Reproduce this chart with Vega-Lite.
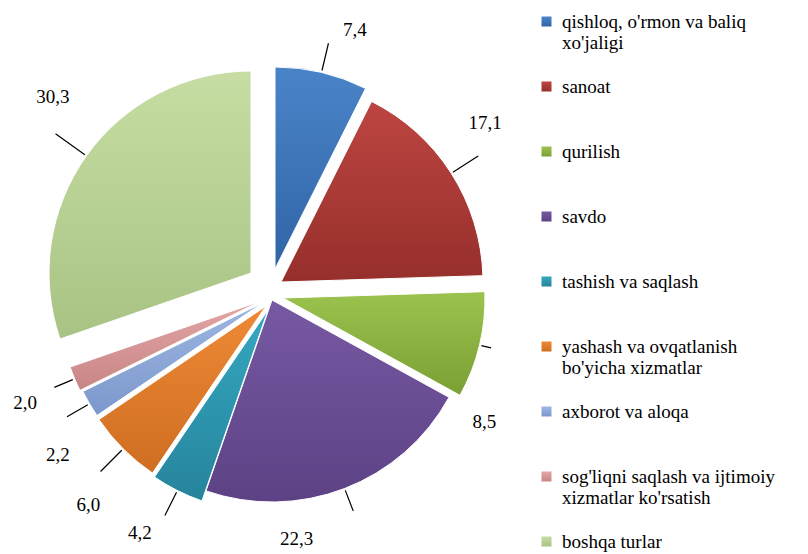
{
  "$schema": "https://vega.github.io/schema/vega-lite/v6.json",
  "width": 536,
  "height": 554,
  "autosize": {"type": "none"},
  "padding": {"left": 0, "top": 0, "right": 272, "bottom": 0},
  "background": "white",
  "config": {
    "font": "Liberation Serif, DejaVu Serif, serif",
    "view": {"stroke": null},
    "legend": {"labelFont": "Liberation Serif, DejaVu Serif, serif"},
    "locale": {"number": {"decimal": ",", "thousands": " ", "grouping": [3], "currency": ["", ""]}}
  },
  "data": {
    "values": [
      {"cat": "qishloq, o'rmon va baliq xo'jaligi", "v": 7.4, "ord": 1},
      {"cat": "sanoat", "v": 17.1, "ord": 2},
      {"cat": "qurilish", "v": 8.5, "ord": 3},
      {"cat": "savdo", "v": 22.3, "ord": 4},
      {"cat": "tashish va saqlash", "v": 4.2, "ord": 5},
      {"cat": "yashash va ovqatlanish bo'yicha xizmatlar", "v": 6.0, "ord": 6},
      {"cat": "axborot va aloqa", "v": 2.2, "ord": 7},
      {"cat": "sog'liqni saqlash va ijtimoiy xizmatlar ko'rsatish", "v": 2.0, "ord": 8},
      {"cat": "boshqa turlar", "v": 30.3, "ord": 9}
    ]
  },
  "transform": [
    {"stack": "v", "groupby": [], "sort": [{"field": "ord"}], "as": ["v0", "v1"]}
  ],
  "encoding": {
    "color": {
      "field": "cat",
      "type": "nominal",
      "scale": {
        "domain": ["qishloq, o'rmon va baliq xo'jaligi", "sanoat", "qurilish", "savdo", "tashish va saqlash", "yashash va ovqatlanish bo'yicha xizmatlar", "axborot va aloqa", "sog'liqni saqlash va ijtimoiy xizmatlar ko'rsatish", "boshqa turlar"],
        "range": [
          {"expr": "{gradient: 'linear', x1: 0, y1: 0, x2: 0, y2: 1, stops: [{offset: 0, color: '#4A84C8'}, {offset: 1, color: '#3065A7'}]}"},
          {"expr": "{gradient: 'linear', x1: 0, y1: 0, x2: 0, y2: 1, stops: [{offset: 0, color: '#BD4541'}, {offset: 1, color: '#962F2C'}]}"},
          {"expr": "{gradient: 'linear', x1: 0, y1: 0, x2: 0, y2: 1, stops: [{offset: 0, color: '#9CC24E'}, {offset: 1, color: '#7A9F34'}]}"},
          {"expr": "{gradient: 'linear', x1: 0, y1: 0, x2: 0, y2: 1, stops: [{offset: 0, color: '#7759A3'}, {offset: 1, color: '#5C4285'}]}"},
          {"expr": "{gradient: 'linear', x1: 0, y1: 0, x2: 0, y2: 1, stops: [{offset: 0, color: '#35A7C1'}, {offset: 1, color: '#26849C'}]}"},
          {"expr": "{gradient: 'linear', x1: 0, y1: 0, x2: 0, y2: 1, stops: [{offset: 0, color: '#EE8A36'}, {offset: 1, color: '#CF6D21'}]}"},
          {"expr": "{gradient: 'linear', x1: 0, y1: 0, x2: 0, y2: 1, stops: [{offset: 0, color: '#9CB7E3'}, {offset: 1, color: '#7C98CB'}]}"},
          {"expr": "{gradient: 'linear', x1: 0, y1: 0, x2: 0, y2: 1, stops: [{offset: 0, color: '#E4A6A6'}, {offset: 1, color: '#C88586'}]}"},
          {"expr": "{gradient: 'linear', x1: 0, y1: 0, x2: 0, y2: 1, stops: [{offset: 0, color: '#C7DDA3'}, {offset: 1, color: '#A8C384'}]}"}
        ]
      },
      "legend": {
        "title": null,
        "orient": "none",
        "legendX": 537,
        "legendY": 12,
        "symbolType": "square",
        "symbolSize": 100,
        "symbolStrokeWidth": 0,
        "labelFont": "Liberation Serif, DejaVu Serif, serif",
        "labelFontSize": 19,
        "labelColor": "#000000",
        "labelLimit": 300,
        "labelOffset": 6,
        "rowPadding": 24,
        "labelExpr": "datum.label == \"qishloq, o'rmon va baliq xo'jaligi\" ? [\"qishloq, o'rmon va baliq\", \"xo'jaligi\"] : datum.label == \"yashash va ovqatlanish bo'yicha xizmatlar\" ? [\"yashash va ovqatlanish\", \"bo'yicha xizmatlar\"] : datum.label == \"sog'liqni saqlash va ijtimoiy xizmatlar ko'rsatish\" ? [\"sog'liqni  saqlash va ijtimoiy\", \"xizmatlar ko'rsatish\"] : datum.label == 'boshqa turlar' ? datum.label : [datum.label, ' ']"
      }
    }
  },
  "layer": [
    {"transform": [{"filter": "datum.ord == 1"}],
     "encoding": {"theta": {"field": "v0", "type": "quantitative", "stack": null, "scale": {"domain": [0, 100]}}, "theta2": {"field": "v1"}},
     "layer": [
       {"mark": {"type": "arc", "outerRadius": 202, "xOffset": 7, "yOffset": -8, "stroke": "#ffffff", "strokeWidth": 1}},
       {"mark": {"type": "arc", "filled": false, "padAngle": 3.1416, "innerRadius": 204, "outerRadius": 232, "xOffset": 7, "yOffset": -8, "strokeWidth": 1.2}, "encoding": {"color": {"value": "#000000"}}}
     ]},
    {"transform": [{"filter": "datum.ord == 2"}],
     "encoding": {"theta": {"field": "v0", "type": "quantitative", "stack": null, "scale": {"domain": [0, 100]}}, "theta2": {"field": "v1"}},
     "layer": [
       {"mark": {"type": "arc", "outerRadius": 202, "xOffset": 13, "yOffset": 5, "stroke": "#ffffff", "strokeWidth": 1}},
       {"mark": {"type": "arc", "filled": false, "padAngle": 3.1416, "innerRadius": 204, "outerRadius": 234, "xOffset": 13, "yOffset": 5, "strokeWidth": 1.2}, "encoding": {"color": {"value": "#000000"}}}
     ]},
    {"transform": [{"filter": "datum.ord == 3"}],
     "encoding": {"theta": {"field": "v0", "type": "quantitative", "stack": null, "scale": {"domain": [0, 100]}}, "theta2": {"field": "v1"}},
     "layer": [
       {"mark": {"type": "arc", "outerRadius": 202, "xOffset": 15, "yOffset": 21, "stroke": "#ffffff", "strokeWidth": 1}},
       {"mark": {"type": "arc", "filled": false, "padAngle": 3.1416, "innerRadius": 204, "outerRadius": 214, "xOffset": 15, "yOffset": 21, "strokeWidth": 1.2}, "encoding": {"color": {"value": "#000000"}}}
     ]},
    {"transform": [{"filter": "datum.ord == 4"}],
     "encoding": {"theta": {"field": "v0", "type": "quantitative", "stack": null, "scale": {"domain": [0, 100]}}, "theta2": {"field": "v1"}},
     "layer": [
       {"mark": {"type": "arc", "outerRadius": 202, "xOffset": 4, "yOffset": 23, "stroke": "#ffffff", "strokeWidth": 1}},
       {"mark": {"type": "arc", "filled": false, "padAngle": 3.1416, "innerRadius": 204, "outerRadius": 226, "xOffset": 4, "yOffset": 23, "strokeWidth": 1.2}, "encoding": {"color": {"value": "#000000"}}}
     ]},
    {"transform": [{"filter": "datum.ord == 5"}],
     "encoding": {"theta": {"field": "v0", "type": "quantitative", "stack": null, "scale": {"domain": [0, 100]}}, "theta2": {"field": "v1"}},
     "layer": [
       {"mark": {"type": "arc", "outerRadius": 202, "xOffset": 0, "yOffset": 33, "stroke": "#ffffff", "strokeWidth": 1}},
       {"mark": {"type": "arc", "filled": false, "padAngle": 3.1416, "innerRadius": 204, "outerRadius": 230, "xOffset": 0, "yOffset": 33, "strokeWidth": 1.2}, "encoding": {"color": {"value": "#000000"}}}
     ]},
    {"transform": [{"filter": "datum.ord == 6"}],
     "encoding": {"theta": {"field": "v0", "type": "quantitative", "stack": null, "scale": {"domain": [0, 100]}}, "theta2": {"field": "v1"}},
     "layer": [
       {"mark": {"type": "arc", "outerRadius": 202, "xOffset": -2, "yOffset": 29, "stroke": "#ffffff", "strokeWidth": 1}},
       {"mark": {"type": "arc", "filled": false, "padAngle": 3.1416, "innerRadius": 204, "outerRadius": 234, "xOffset": -2, "yOffset": 29, "strokeWidth": 1.2}, "encoding": {"color": {"value": "#000000"}}}
     ]},
    {"transform": [{"filter": "datum.ord == 7"}],
     "encoding": {"theta": {"field": "v0", "type": "quantitative", "stack": null, "scale": {"domain": [0, 100]}}, "theta2": {"field": "v1"}},
     "layer": [
       {"mark": {"type": "arc", "outerRadius": 202, "xOffset": -4, "yOffset": 25, "stroke": "#ffffff", "strokeWidth": 1}},
       {"mark": {"type": "arc", "filled": false, "padAngle": 3.1416, "innerRadius": 204, "outerRadius": 228, "xOffset": -4, "yOffset": 25, "strokeWidth": 1.2}, "encoding": {"color": {"value": "#000000"}}}
     ]},
    {"transform": [{"filter": "datum.ord == 8"}],
     "encoding": {"theta": {"field": "v0", "type": "quantitative", "stack": null, "scale": {"domain": [0, 100]}}, "theta2": {"field": "v1"}},
     "layer": [
       {"mark": {"type": "arc", "outerRadius": 202, "xOffset": -7, "yOffset": 24, "stroke": "#ffffff", "strokeWidth": 1}},
       {"mark": {"type": "arc", "filled": false, "padAngle": 3.1416, "innerRadius": 204, "outerRadius": 224, "xOffset": -7, "yOffset": 24, "strokeWidth": 1.2}, "encoding": {"color": {"value": "#000000"}}}
     ]},
    {"transform": [{"filter": "datum.ord == 9"}],
     "encoding": {"theta": {"field": "v0", "type": "quantitative", "stack": null, "scale": {"domain": [0, 100]}}, "theta2": {"field": "v1"}},
     "layer": [
       {"mark": {"type": "arc", "outerRadius": 202, "xOffset": -17, "yOffset": -4, "stroke": "#ffffff", "strokeWidth": 1}},
       {"mark": {"type": "arc", "filled": false, "padAngle": 3.1416, "innerRadius": 204, "outerRadius": 240, "xOffset": -17, "yOffset": -4, "strokeWidth": 1.2}, "encoding": {"color": {"value": "#000000"}}}
     ]},
    {"mark": {"type": "text", "radius": 260, "dx": 27, "dy": 6, "fontSize": 19, "align": "center", "baseline": "middle"},
     "encoding": {"theta": {"field": "v", "type": "quantitative", "stack": true, "scale": {"domain": [0, 100]}}, "order": {"field": "ord"}, "color": {"value": "#000000"}, "text": {"field": "v", "type": "quantitative", "format": ".1f"}, "opacity": {"condition": {"test": "datum.ord == 1", "value": 1}, "value": 0}}},
    {"mark": {"type": "text", "radius": 266, "dx": -7, "dy": -11, "fontSize": 19, "align": "center", "baseline": "middle"},
     "encoding": {"theta": {"field": "v", "type": "quantitative", "stack": true, "scale": {"domain": [0, 100]}}, "order": {"field": "ord"}, "color": {"value": "#000000"}, "text": {"field": "v", "type": "quantitative", "format": ".1f"}, "opacity": {"condition": {"test": "datum.ord == 2", "value": 1}, "value": 0}}},
    {"mark": {"type": "text", "radius": 244, "dx": -21, "dy": 88, "fontSize": 19, "align": "center", "baseline": "middle"},
     "encoding": {"theta": {"field": "v", "type": "quantitative", "stack": true, "scale": {"domain": [0, 100]}}, "order": {"field": "ord"}, "color": {"value": "#000000"}, "text": {"field": "v", "type": "quantitative", "format": ".1f"}, "opacity": {"condition": {"test": "datum.ord == 3", "value": 1}, "value": 0}}},
    {"mark": {"type": "text", "radius": 255, "dx": -63, "dy": 24, "fontSize": 19, "align": "center", "baseline": "middle"},
     "encoding": {"theta": {"field": "v", "type": "quantitative", "stack": true, "scale": {"domain": [0, 100]}}, "order": {"field": "ord"}, "color": {"value": "#000000"}, "text": {"field": "v", "type": "quantitative", "format": ".1f"}, "opacity": {"condition": {"test": "datum.ord == 4", "value": 1}, "value": 0}}},
    {"mark": {"type": "text", "radius": 286, "dx": 0, "dy": 0, "fontSize": 19, "align": "center", "baseline": "middle"},
     "encoding": {"theta": {"field": "v", "type": "quantitative", "stack": true, "scale": {"domain": [0, 100]}}, "order": {"field": "ord"}, "color": {"value": "#000000"}, "text": {"field": "v", "type": "quantitative", "format": ".1f"}, "opacity": {"condition": {"test": "datum.ord == 5", "value": 1}, "value": 0}}},
    {"mark": {"type": "text", "radius": 288, "dx": 24, "dy": 24, "fontSize": 19, "align": "center", "baseline": "middle"},
     "encoding": {"theta": {"field": "v", "type": "quantitative", "stack": true, "scale": {"domain": [0, 100]}}, "order": {"field": "ord"}, "color": {"value": "#000000"}, "text": {"field": "v", "type": "quantitative", "format": ".1f"}, "opacity": {"condition": {"test": "datum.ord == 6", "value": 1}, "value": 0}}},
    {"mark": {"type": "text", "radius": 271, "dx": 24, "dy": 42, "fontSize": 19, "align": "center", "baseline": "middle"},
     "encoding": {"theta": {"field": "v", "type": "quantitative", "stack": true, "scale": {"domain": [0, 100]}}, "order": {"field": "ord"}, "color": {"value": "#000000"}, "text": {"field": "v", "type": "quantitative", "format": ".1f"}, "opacity": {"condition": {"test": "datum.ord == 7", "value": 1}, "value": 0}}},
    {"mark": {"type": "text", "radius": 273, "dx": 9, "dy": 21, "fontSize": 19, "align": "center", "baseline": "middle"},
     "encoding": {"theta": {"field": "v", "type": "quantitative", "stack": true, "scale": {"domain": [0, 100]}}, "order": {"field": "ord"}, "color": {"value": "#000000"}, "text": {"field": "v", "type": "quantitative", "format": ".1f"}, "opacity": {"condition": {"test": "datum.ord == 8", "value": 1}, "value": 0}}},
    {"mark": {"type": "text", "radius": 280, "dx": 13, "dy": -18, "fontSize": 19, "align": "center", "baseline": "middle"},
     "encoding": {"theta": {"field": "v", "type": "quantitative", "stack": true, "scale": {"domain": [0, 100]}}, "order": {"field": "ord"}, "color": {"value": "#000000"}, "text": {"field": "v", "type": "quantitative", "format": ".1f"}, "opacity": {"condition": {"test": "datum.ord == 9", "value": 1}, "value": 0}}}
  ]
}
